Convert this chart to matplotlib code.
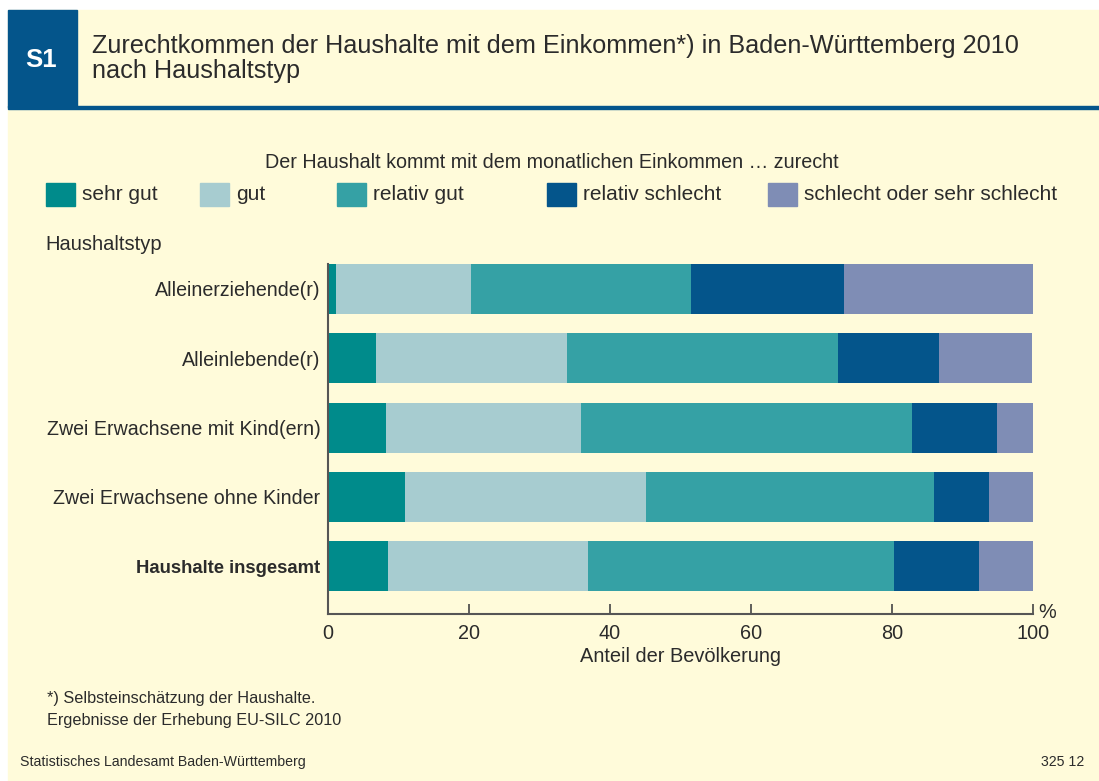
import matplotlib.pyplot as plt
import numpy as np
from matplotlib.patches import Rectangle

categories = ["Alleinerziehende(r)", "Alleinlebende(r)", "Zwei Erwachsene mit Kind(ern)",
              "Zwei Erwachsene ohne Kinder", "Haushalte insgesamt"]
series_names = ["sehr gut", "gut", "relativ gut", "relativ schlecht", "schlecht oder sehr schlecht"]
sehr_gut = [1.1, 6.8, 8.2, 10.9, 8.5]
gut = [19.2, 27.1, 27.7, 34.2, 28.4]
relativ_gut = [31.2, 38.4, 46.9, 40.9, 43.4]
relativ_schlecht = [21.7, 14.4, 12.1, 7.8, 12.0]
schlecht = [26.8, 13.2, 5.4, 6.3, 8.0]
x_ticks = [0, 20, 40, 60, 80, 100]

colors = ["#008B8B", "#A7CCD0", "#35A1A5", "#04558B", "#7F8DB5"]
bg = "#FFFBDA"
txt = "#2B2B2B"

plt.rcParams['font.family'] = ['Liberation Sans', 'DejaVu Sans']

W, H = 1099, 781
fig = plt.figure(figsize=(W / 100, H / 100), dpi=100)
fig.patch.set_facecolor("white")


def px(x, y):
    return x / W, 1 - y / H


# cream panel, header box, header rule
fig.patches.append(Rectangle(px(8, 781), (W - 8) / W, (781 - 10) / H,
                             transform=fig.transFigure, color=bg, zorder=-10))
fig.patches.append(Rectangle(px(8, 107), 69 / W, 97 / H,
                             transform=fig.transFigure, color="#04558B", zorder=-5))
fig.patches.append(Rectangle(px(8, 109), (W - 8) / W, 2.5 / H,
                             transform=fig.transFigure, color="#04558B", zorder=-5))

fig.text(*px(41, 60), "S1", color="white", fontsize=18.5, fontweight="bold",
         ha="center", va="center")
fig.text(*px(92, 46), "Zurechtkommen der Haushalte mit dem Einkommen*) in Baden-Württemberg 2010",
         color=txt, fontsize=18.2, ha="left", va="center")
fig.text(*px(92, 71), "nach Haushaltstyp", color=txt, fontsize=18.2, ha="left", va="center")

fig.text(*px(552, 162), "Der Haushalt kommt mit dem monatlichen Einkommen … zurecht",
         color=txt, fontsize=14.2, ha="center", va="center")

# legend
patch_x = [46, 200, 337, 547, 768]
for name, col, lx in zip(series_names, colors, patch_x):
    fig.patches.append(Rectangle(px(lx, 206), 29 / W, 23 / H,
                                 transform=fig.transFigure, color=col))
    fig.text(*px(lx + 36, 195), name, color=txt, fontsize=15, ha="left", va="center")

fig.text(*px(45, 244), "Haushaltstyp", color=txt, fontsize=14.5, ha="left", va="center")

ax = fig.add_axes([328 / W, 1 - 614 / H, 705 / W, 350 / H])
ax.set_facecolor("none")

data = [sehr_gut, gut, relativ_gut, relativ_schlecht, schlecht]
ypos = np.arange(len(categories))
left = np.zeros(len(categories))
for vals, col, name in zip(data, colors, series_names):
    ax.barh(ypos, vals, left=left, height=0.72, color=col, label=name)
    left += np.array(vals)

ax.set_xlim(0, 100)
ax.set_ylim(4.69, -0.36)
ax.set_xticks(x_ticks)
ax.set_xticklabels([str(t) for t in x_ticks])
ax.set_yticks(ypos)
ax.set_yticklabels(categories)
ax.tick_params(axis="x", direction="in", length=7, width=1.2, color="#444444",
               labelsize=14.3, labelcolor=txt, pad=7)
ax.tick_params(axis="y", length=0, labelsize=14.1, labelcolor=txt, pad=5.5)
# total row in bold
for lbl in ax.get_yticklabels():
    if lbl.get_text() == "Haushalte insgesamt":
        lbl.set_fontweight("bold")
        lbl.set_fontsize(13.3)
for s in ["top", "right"]:
    ax.spines[s].set_visible(False)
for s in ["left", "bottom"]:
    ax.spines[s].set_color("#555555")
    ax.spines[s].set_linewidth(1.5)

ax.set_xlabel("Anteil der Bevölkerung", fontsize=14.4, color=txt, labelpad=3)
fig.text(*px(1047, 612), "%", color=txt, fontsize=14.3, ha="center", va="center")

fig.text(*px(47, 698), "*) Selbsteinschätzung der Haushalte.", color=txt, fontsize=11.7,
         ha="left", va="center")
fig.text(*px(47, 720), "Ergebnisse der Erhebung EU-SILC 2010", color=txt, fontsize=11.7,
         ha="left", va="center")
fig.text(*px(20, 762), "Statistisches Landesamt Baden-Württemberg", color=txt, fontsize=10.2,
         ha="left", va="center")
fig.text(*px(1084, 762), "325 12", color=txt, fontsize=10.2, ha="right", va="center")

fig.savefig("out.png", dpi=100, facecolor=fig.get_facecolor())
